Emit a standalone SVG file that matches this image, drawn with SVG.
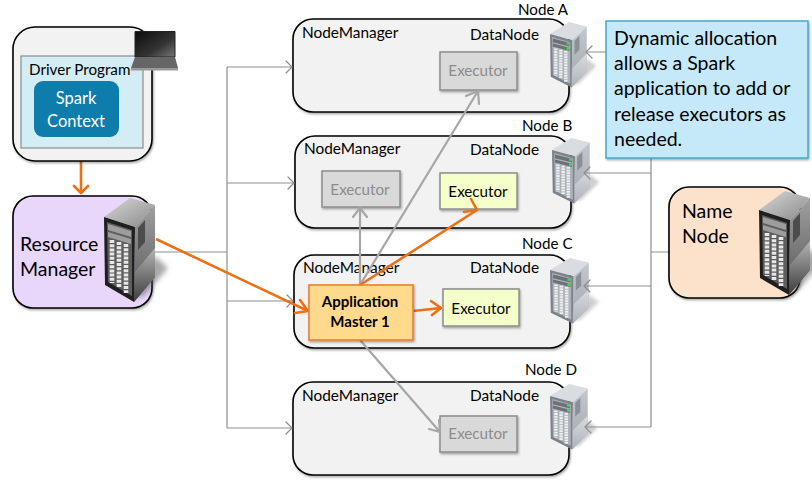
<svg xmlns="http://www.w3.org/2000/svg" xmlns:xlink="http://www.w3.org/1999/xlink" width="812" height="486" viewBox="0 0 812 486">
<style>
text{font-family:"Lato","Liberation Sans",sans-serif;fill:#000}
.box{fill:#f2f2f2;stroke:#000;stroke-width:1.6}
.l{font-size:15.4px}.n{font-size:15.2px}.xl{font-size:19.5px}
.ex{stroke-width:1.5}
.g{fill:#d9d9d9;stroke:#8c8c8c}
.y{fill:#f5ffc9;stroke:#8c8c8c}
.gt{font-size:15.2px;fill:#8c8c8c;text-anchor:middle}
.bt{font-size:15.2px;text-anchor:middle}
.thin{fill:none;stroke:#8f8f8f;stroke-width:1.2}
.thick{fill:none;stroke:#a6a6a6;stroke-width:2.2}
.or{fill:none;stroke:#ed7014;stroke-width:2.6}
.head{fill:none;stroke-linecap:round;stroke-linejoin:round}
</style>
<defs>
<filter id="sh" x="-10%" y="-10%" width="125%" height="125%"><feDropShadow dx="1" dy="1.5" stdDeviation="1.2" flood-color="#000" flood-opacity=".35"/></filter>
<filter id="bl" x="-50%" y="-50%" width="200%" height="200%"><feGaussianBlur stdDeviation="2.5"/></filter>
<linearGradient id="topD" x1="0" y1="0" x2="1" y2="1"><stop offset="0" stop-color="#d8d8d8"/><stop offset="1" stop-color="#8a8a8a"/></linearGradient>
<linearGradient id="sideD" x1="0" y1="0" x2="0" y2="1"><stop offset="0" stop-color="#a0a0a0"/><stop offset="1" stop-color="#555"/></linearGradient>
<linearGradient id="lowD" x1="0" y1="0" x2="0" y2="1"><stop offset="0" stop-color="#b4b4b4"/><stop offset="1" stop-color="#3c3c3c"/></linearGradient>
<linearGradient id="sideL" x1="0" y1="0" x2="0" y2="1"><stop offset="0" stop-color="#c3c7cd"/><stop offset="1" stop-color="#a2a7af"/></linearGradient>
<linearGradient id="lowL" x1="0" y1="0" x2="0" y2="1"><stop offset="0" stop-color="#d8dbdf"/><stop offset="1" stop-color="#aeb2b9"/></linearGradient>
<linearGradient id="scr" x1="0" y1="0" x2="1" y2="1"><stop offset="0" stop-color="#0c0c0c"/><stop offset=".6" stop-color="#333"/><stop offset="1" stop-color="#777"/></linearGradient>
<g id="srvD">
<path d="M51 58 L64 70 L40 98 L30 100Z" fill="#555" opacity=".5" filter="url(#bl)"/>
<path d="M0 19 L26 0 L51 7 L31 29Z" fill="url(#topD)"/>
<path d="M31 29 L51 7 V79 L30 104Z" fill="url(#sideD)"/>
<path d="M31 74 L51 50 V79 L30 104Z" fill="url(#lowD)"/>
<path d="M34 30 L41 22 V44 L34 52Z" fill="#4c4c4c"/>
<path d="M0 19 L31 29 L30 104 L1 87Z" fill="#1f1f1f"/>
<path d="M3 24 L28 32 V98 L4 84Z" fill="#5e5e5e"/>
<path d="M4 26 L27 33 V39 L4 32Z M4 34 L27 41 V46 L4 39Z" fill="#9d9d9d"/>
<path d="M8 42 V85 M15 44 V90 M22 46 V95" stroke="#e8e8e8" stroke-width="4.6" stroke-dasharray="3 1.2" fill="none"/>
</g>
<g id="srvL">
<path d="M51 58 L64 70 L40 98 L30 100Z" fill="#777" opacity=".35" filter="url(#bl)"/>
<path d="M0 19 L26 0 L51 7 L31 29Z" fill="#d9dce0"/>
<path d="M31 29 L51 7 V79 L30 104Z" fill="url(#sideL)"/>
<path d="M31 74 L51 50 V79 L30 104Z" fill="url(#lowL)"/>
<path d="M34 30 L41 22 V44 L34 52Z" fill="#8b9098"/>
<path d="M0 19 L31 29 L30 104 L1 87Z" fill="#7d828a"/>
<path d="M3 24 L28 32 V98 L4 84Z" fill="#aeb3ba"/>
<path d="M4 26 L27 33 V39 L4 32Z M4 34 L27 41 V46 L4 39Z" fill="#6c7077"/>
<path d="M23 32 h4 v4 h-4z M23 40 h4 v4 h-4z" fill="#3fdc4c"/>
<path d="M8 42 V85 M15 44 V90 M22 46 V95" stroke="#eef0f2" stroke-width="4.6" stroke-dasharray="3 1.2" fill="none"/>
</g>
</defs>
<rect width="812" height="486" fill="#fff"/>

<g id="node-a"><rect class="box" x="293" y="19" width="276" height="93" rx="20" filter="url(#sh)"/><text class="l" x="302" y="38">NodeManager</text><text class="l" x="470" y="40">DataNode</text><text class="n" x="518" y="15.2">Node A</text><use xlink:href="#srvL" transform="translate(550 22) scale(.72 .63)"/></g>
<g id="node-b"><rect class="box" x="295" y="136" width="276" height="92" rx="20" filter="url(#sh)"/><text class="l" x="304" y="154">NodeManager</text><text class="l" x="470" y="155">DataNode</text><text class="n" x="522" y="131">Node B</text><use xlink:href="#srvL" transform="translate(552 138) scale(.74 .63)"/></g>
<g id="node-c"><rect class="box" x="294" y="255" width="276" height="93" rx="20" filter="url(#sh)"/><text class="l" x="303" y="273">NodeManager</text><text class="l" x="470" y="273">DataNode</text><text class="n" x="522" y="249">Node C</text><use xlink:href="#srvL" transform="translate(550 258) scale(.76 .63)"/></g>
<g id="node-d"><rect class="box" x="293" y="382" width="276" height="93" rx="20" filter="url(#sh)"/><text class="l" x="302" y="401">NodeManager</text><text class="l" x="470" y="401">DataNode</text><text class="n" x="525" y="375">Node D</text><use xlink:href="#srvL" transform="translate(550 384) scale(.74 .63)"/></g>

<g id="executor-a"><rect class="ex g" x="440" y="52" width="77" height="38" filter="url(#sh)"/><text class="gt" x="478" y="76">Executor</text></g>
<g id="executor-b1"><rect class="ex g" x="322" y="171" width="78" height="36" filter="url(#sh)"/><text class="gt" x="360" y="195">Executor</text></g>
<g id="executor-b2"><rect class="ex y" x="440" y="173" width="77" height="36" filter="url(#sh)"/><text class="bt" x="478" y="197">Executor</text></g>
<g id="executor-c"><rect class="ex y" x="443" y="289" width="76" height="37" filter="url(#sh)"/><text class="bt" x="481" y="314">Executor</text></g>
<g id="executor-d"><rect class="ex g" x="440" y="416" width="77" height="36" filter="url(#sh)"/><text class="gt" x="478" y="439">Executor</text></g>

<g id="connectors">
<path class="thin" d="M155 252H227M227 67V428M227 67H292M227 183H294M227 301H293M227 428H292"/>
<path class="thin" d="M651 158V427M606 52H586M651 173H584M651 286H584M651 427H585M651 252H669"/>
<path class="thin head" d="M286 61L292 67L286 73M288 177L294 183L288 189M287 295L293 301L287 307M286 422L292 428L286 434M592 46L586 52L592 58M590 167L584 173L590 179M590 280L584 286L590 292M591 421L585 427L591 433"/>
<path class="thick" d="M360 285L478 91M360 285V208M360 340L440 432"/>
<path class="thick head" d="M466 96L478 91L479 104M353 217L360 208L367 217M429 429L440 432L439 420"/>
<path class="or" d="M156 239L308 311M360 285L477 210M413 311L441 308M81 161V193"/>
<path class="or head" d="M295 313L308 311L300 300M464 212L477 210L471 199M431 301L441 308L432 315M74 186L81 193L88 186"/>
</g>

<g id="app-master"><rect x="309" y="285" width="104" height="55" fill="#ffd98c" stroke="#ed7d31" stroke-width="1.6" filter="url(#sh)"/><text x="360" y="307" font-size="15" font-weight="700" text-anchor="middle">Application</text><text x="360" y="327" font-size="15" font-weight="700" text-anchor="middle">Master 1</text></g>

<g id="driver"><rect class="box" x="13" y="27" width="139" height="134" rx="22" filter="url(#sh)"/><rect x="21" y="56" width="122" height="92" fill="#d3edf5" stroke="#8c8c8c" stroke-width="1.2"/><text x="29" y="75" font-size="15.2">Driver Program</text><rect x="34" y="81" width="85" height="56" rx="9" fill="#0f7dab"/><text x="76" y="104" font-size="16.5" text-anchor="middle" style="fill:#fff">Spark</text><text x="76" y="127" font-size="16.5" text-anchor="middle" style="fill:#fff">Context</text>
<path d="M135 31.500H175V57H135Z" fill="url(#scr)" stroke="#222"/><path d="M135 57H175L178 68H131Z" fill="#666"/><rect x="131" y="68" width="47" height="2.500" fill="#999"/></g>

<g id="resource-manager"><rect x="13" y="196" width="139" height="112" rx="20" fill="#e8d7fb" stroke="#000" stroke-width="1.6" filter="url(#sh)"/><text class="xl" x="20" y="251">Resource</text><text class="xl" x="20" y="276">Manager</text><use xlink:href="#srvD" x="104" y="198"/></g>

<g id="name-node"><rect x="669" y="187" width="131" height="111" rx="20" fill="#fde2cb" stroke="#000" stroke-width="1.6" filter="url(#sh)"/><text class="xl" x="682" y="218">Name</text><text class="xl" x="682" y="243">Node</text><use xlink:href="#srvD" x="759" y="191"/></g>

<g id="callout"><rect x="606" y="21" width="202" height="137" fill="#c5e9f9" stroke="#3aa6c8" stroke-width="1.4" filter="url(#sh)"/><text class="xl" x="614" y="45">Dynamic allocation</text><text class="xl" x="614" y="70">allows a Spark</text><text class="xl" x="614" y="95">application to add or</text><text class="xl" x="614" y="121">release executors as</text><text class="xl" x="614" y="146">needed.</text></g>
</svg>
